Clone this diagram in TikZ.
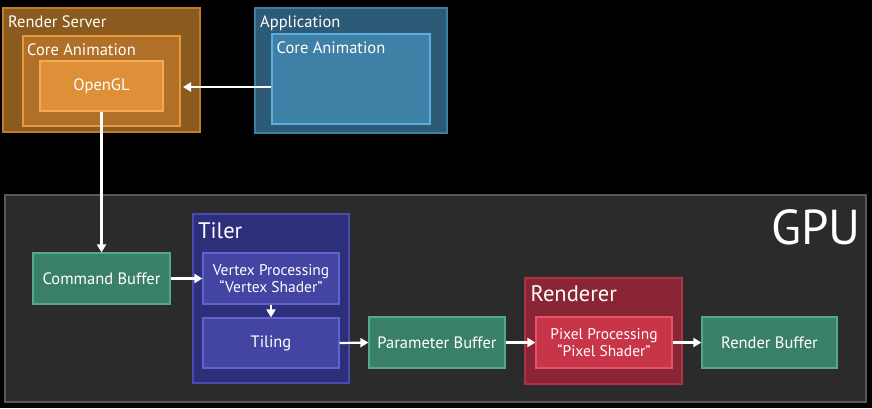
\documentclass[tikz,border=0pt]{standalone}
\usepackage{fontspec}
\setmainfont{PT Sans}
\usetikzlibrary{arrows.meta}
\definecolor{rsfill}{HTML}{8A5A1F}\definecolor{rsdraw}{HTML}{C27B2B}
\definecolor{cafill}{HTML}{B07028}\definecolor{cadraw}{HTML}{E59A40}
\definecolor{glfill}{HTML}{DE8F38}\definecolor{gldraw}{HTML}{F4AA52}
\definecolor{apfill}{HTML}{2D5A76}\definecolor{apdraw}{HTML}{3E7EA2}
\definecolor{cbfill}{HTML}{3F80A7}\definecolor{cbdraw}{HTML}{5AADDC}
\definecolor{gpufill}{HTML}{2B2B2B}\definecolor{gpudraw}{HTML}{585858}
\definecolor{grfill}{HTML}{3A8068}\definecolor{grdraw}{HTML}{52AA8A}
\definecolor{tlfill}{HTML}{2E2F7A}\definecolor{tldraw}{HTML}{4A4AB0}
\definecolor{vpfill}{HTML}{4444A2}\definecolor{vpdraw}{HTML}{6262CC}
\definecolor{rrfill}{HTML}{8A2535}\definecolor{rrdraw}{HTML}{B03242}
\definecolor{ppfill}{HTML}{C83448}\definecolor{ppdraw}{HTML}{E45468}
\tikzset{
  box/.style={line width=1.2pt, inner sep=0pt, text=white, font=\fontsize{16.5}{18}\selectfont, align=center},
  twoline/.style={font=\fontsize{15.5}{17}\selectfont},
  conn/.style={draw=white, line width=2.2pt, -{Triangle[length=8pt,width=9pt]}},
  lbl/.style={text=white, anchor=base west, inner sep=0pt, font=\fontsize{16.5}{18}\selectfont},
  biglbl/.style={text=white, anchor=base west, inner sep=0pt, font=\fontsize{22.5}{24}\selectfont},
}
\begin{document}
\begin{tikzpicture}[x=1pt,y=-1pt]
\fill[black] (0,0) rectangle (872,408);
\useasboundingbox (0,0) rectangle (872,408);
% top
\draw[box, fill=rsfill, draw=rsdraw] (3,8) rectangle (200,132);
\node[lbl] (rsl) at (8,27.3) {Render Server};
\draw[box, fill=cafill, draw=cadraw] (23,36) rectangle (180,126);
\coordinate (caeast) at (180,87);
\node[lbl] (cal) at (27,55) {Core Animation};
\node[box, fill=glfill, draw=gldraw, minimum width=123pt, minimum height=50pt] (gl) at (101.5,86) {OpenGL};
\draw[box, fill=apfill, draw=apdraw] (255,8) rectangle (447,133);
\node[lbl] (apl) at (260,27) {Application};
\node[box, fill=cbfill, draw=cbdraw, minimum width=158pt, minimum height=90pt] (appca) at (351,79) {};
\node[lbl] (appcal) at (276.5,53) {Core Animation};
% gpu
\draw[line width=1.2pt, fill=gpufill, draw=gpudraw] (5,195) rectangle (866,402);
\node[anchor=base east, inner sep=0pt, text=white, font=\fontsize{49}{50}\selectfont] (gpul) at (861,244.7) {GPU};
\node[box, fill=grfill, draw=grdraw, minimum width=137pt, minimum height=51pt] (cmd) at (101.5,278.5) {Command Buffer};
\draw[box, fill=tlfill, draw=tldraw] (193,214) rectangle (349,383);
\node[biglbl] (tll) at (198,238.7) {Tiler};
\node[box, twoline, fill=vpfill, draw=vpdraw, minimum width=136pt, minimum height=51pt] (vp) at (271,278.5) {Vertex Processing\\``Vertex Shader''};
\node[box, fill=vpfill, draw=vpdraw, minimum width=136pt, minimum height=50pt] (tiling) at (271,343) {Tiling};
\node[box, fill=grfill, draw=grdraw, minimum width=136pt, minimum height=51pt] (param) at (437,342.5) {Parameter Buffer};
\draw[box, fill=rrfill, draw=rrdraw] (525,278) rectangle (682,384);
\node[biglbl] (rrl) at (530.5,301.7) {Renderer};
\node[box, twoline, fill=ppfill, draw=ppdraw, minimum width=136pt, minimum height=51pt] (pp) at (604,342.5) {Pixel Processing\\``Pixel Shader''};
\node[box, fill=grfill, draw=grdraw, minimum width=135pt, minimum height=51pt] (rb) at (769.5,342.5) {Render Buffer};
% connectors
\draw[conn] (appca.west |- caeast) -- ([xshift=3pt]caeast);
\draw[conn] (gl.south) -- (cmd.north);
\draw[conn] (cmd.east) -- (vp.west);
\draw[conn] (vp.south) -- (tiling.north);
\draw[conn] (tiling.east) -- (param.west);
\draw[conn] (param.east) -- (pp.west);
\draw[conn] (pp.east) -- (rb.west);
\end{tikzpicture}
\end{document}
